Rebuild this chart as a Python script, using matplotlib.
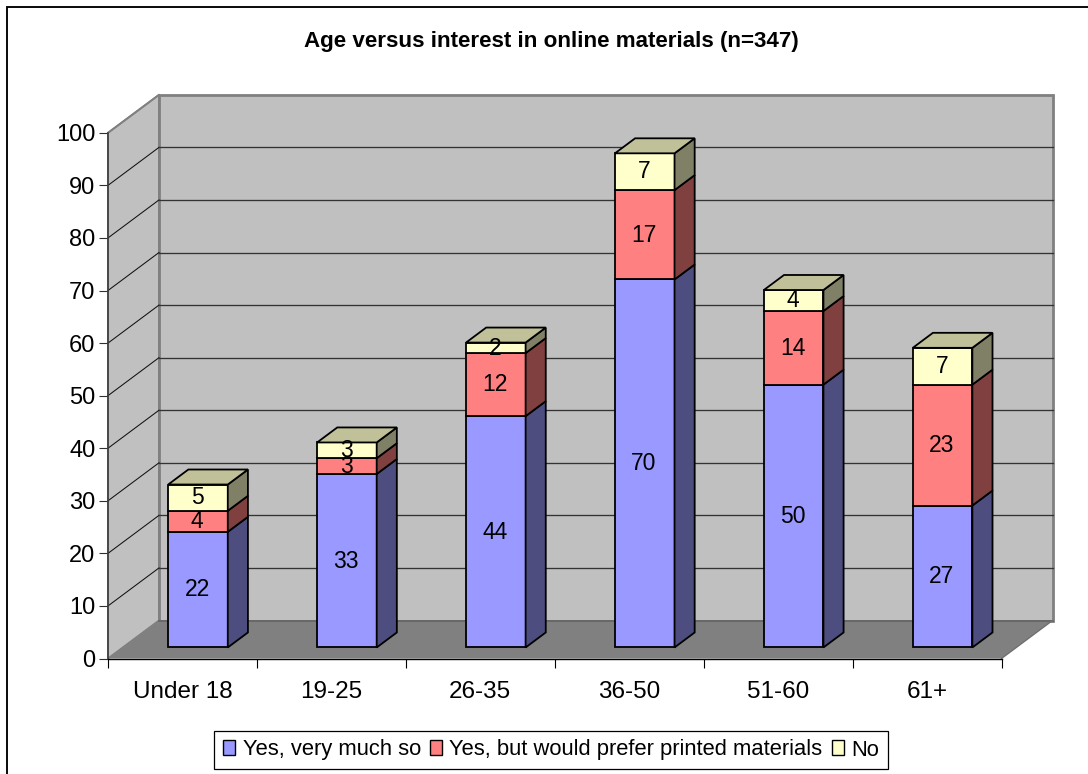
import numpy as np
import matplotlib
matplotlib.use("Agg")
import matplotlib.pyplot as plt
from matplotlib.patches import Patch, Rectangle

plt.rcParams['font.family'] = ['Liberation Sans', 'DejaVu Sans']

categories = ['Under 18', '19-25', '26-35', '36-50', '51-60', '61+']
yes_very = [22, 33, 44, 70, 50, 27]
yes_printed = [4, 3, 12, 17, 14, 23]
no = [5, 3, 2, 7, 4, 7]
series_names = ['Yes, very much so', 'Yes, but would prefer printed materials', 'No']
yticks = list(range(0, 101, 10))
title = 'Age versus interest in online materials (n=347)'

W, H = 1088, 774
L, R, B, T = 108.0, 1001.5, 658.5, 132.8
DEPTH_PX = (51.0, 38.0)
BAR_F, BAR_B = 0.29, 0.685
BAR_W = 0.4
BAR_SHIFT = 0.005

faces = ['#9999FF', '#FF8080', '#FFFFCC']
sides = ['#4D4D80', '#804040', '#808066']
top_c = '#C0C099'
WALL, FLOOR, EDGE = '#C0C0C0', '#808080', '#808080'

fig = plt.figure(figsize=(W / 100, H / 100), dpi=100, facecolor='white')
ax = fig.add_axes([L / W, 1 - B / H, (R - L) / W, (B - T) / H])
ax.set_xlim(0, len(categories))
ax.set_ylim(0, 100)
ax.patch.set_visible(False)

DX = DEPTH_PX[0] / ((R - L) / len(categories))
DY = DEPTH_PX[1] / ((B - T) / 100)


def P(x, y, d):
    return x + d * DX, y + d * DY


def poly(points, **kw):
    xs = [p[0] for p in points]
    ys = [p[1] for p in points]
    return ax.fill(xs, ys, clip_on=False, **kw)


n = len(categories)
# walls and floor
poly([P(0, 0, 0), P(0, 0, 1), P(0, 100, 1), P(0, 100, 0)], facecolor=WALL, edgecolor=EDGE, lw=1.4, zorder=1)
poly([P(0, 0, 1), P(n, 0, 1), P(n, 100, 1), P(0, 100, 1)], facecolor=WALL, edgecolor=EDGE, lw=2.0, zorder=1)
poly([P(0, 0, 0), P(n, 0, 0), P(n, 0, 1), P(0, 0, 1)], facecolor=FLOOR, edgecolor='none', zorder=1.1)
ax.plot(*zip(P(0, 0, 1), P(n, 0, 1)), color='#666666', lw=1.3, clip_on=False, zorder=1.2)
ax.plot(*zip(P(n, 0, 0), P(n, 0, 1)), color='#707070', lw=1.0, clip_on=False, zorder=1.2)

# gridlines
for v in yticks[1:-1]:
    ax.plot(*zip(P(0, v, 0), P(0, v, 1)), color='#111111', lw=0.75, clip_on=False, zorder=1.3)
    ax.plot(*zip(P(0, v, 1), P(n, v, 1)), color='#333333', lw=0.95, clip_on=False, zorder=1.3)
ax.plot(*zip(P(0, 100, 0), P(0, 100, 1)), color=EDGE, lw=1.2, clip_on=False, zorder=1.3)

# bars
stack = np.array([yes_very, yes_printed, no], dtype=float)
bottoms = np.vstack([np.zeros(n), np.cumsum(stack, axis=0)[:-1]])
centers = np.arange(n) + 0.5
bar_x = centers + BAR_SHIFT
lw_bar = 1.3
for j in range(3):
    xf, yf = P(bar_x, bottoms[j], BAR_F)
    ax.bar(xf, stack[j], BAR_W, bottom=yf, color=faces[j], edgecolor='black', lw=lw_bar,
           clip_on=False, zorder=3)
    for i in range(n):
        x1 = bar_x[i] + BAR_W / 2
        b, t = bottoms[j][i], bottoms[j][i] + stack[j][i]
        poly([P(x1, b, BAR_F), P(x1, b, BAR_B), P(x1, t, BAR_B), P(x1, t, BAR_F)],
             facecolor=sides[j], edgecolor='black', lw=lw_bar, zorder=3)
        lx, ly = P(bar_x[i], b + stack[j][i] / 2, BAR_F)
        ax.text(lx - 0.005, ly - 0.05, f'{int(stack[j][i])}', ha='center', va='center',
                fontsize=16.5, color='black', zorder=5, clip_on=False)
for i in range(n):
    x0, x1 = bar_x[i] - BAR_W / 2, bar_x[i] + BAR_W / 2
    t = stack[:, i].sum()
    poly([P(x0, t, BAR_F), P(x1, t, BAR_F), P(x1, t, BAR_B), P(x0, t, BAR_B)],
         facecolor=top_c, edgecolor='black', lw=lw_bar, zorder=3)

# axes
for s in ('top', 'right'):
    ax.spines[s].set_visible(False)
ax.spines['left'].set_color('#404040')
ax.spines['left'].set_linewidth(1.2)
ax.spines['bottom'].set_color('black')
ax.spines['bottom'].set_linewidth(1.0)
ax.set_yticks(yticks)
ax.tick_params(axis='y', length=6.5, width=0.8, color='#303030', labelsize=17, pad=2.5)
ax.set_xticks(np.arange(n + 1))
ax.tick_params(axis='x', which='major', length=6.5, width=0.8, labelbottom=False)
ax.set_xticks(centers, minor=True)
ax.set_xticklabels(categories, minor=True)
ax.tick_params(axis='x', which='minor', length=0, labelsize=17.5, pad=16)

# title
fig.text(551.5 / W, 1 - 41.5 / H, title, ha='center', va='center', fontsize=16.1, fontweight='bold')

# legend
handles = [Patch(facecolor=c, edgecolor='black', lw=1.0) for c in faces]
leg = fig.legend(handles, series_names, loc='center', bbox_to_anchor=(551 / W, 1 - 750 / H),
                 ncol=3, fontsize=15.8, frameon=True, fancybox=False, framealpha=1,
                 edgecolor='black', borderpad=0.4, handlelength=0.56, handleheight=0.66,
                 handletextpad=0.32, columnspacing=0.42, borderaxespad=0)
leg.get_frame().set_linewidth(0.9)

# chart-area border, running off the image on the right and bottom
fig.add_artist(Rectangle((6.5 / W, -0.1), 1.2, 1.1 - 6.5 / H, transform=fig.transFigure,
                         fill=False, edgecolor='black', lw=1.35))

fig.savefig('out.png', dpi=100)
